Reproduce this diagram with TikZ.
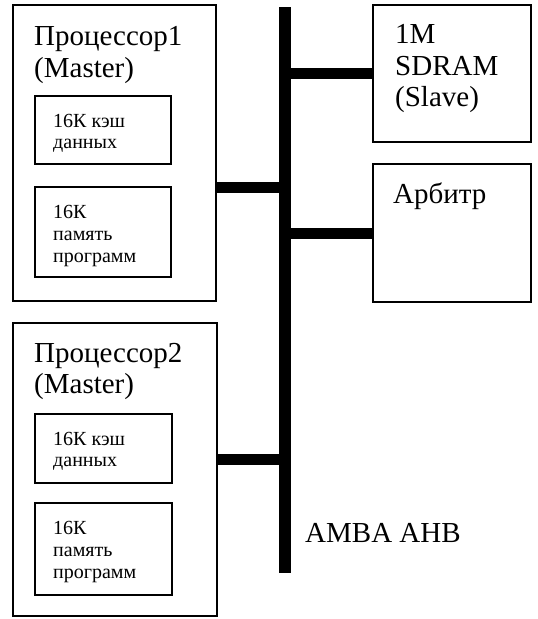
\documentclass[tikz,border=0pt]{standalone}
\usepackage{fontspec}
\setmainfont{Liberation Serif}
\begin{document}
\begin{tikzpicture}[x=1pt,y=-1pt,
  box/.style={draw=black,line width=1.6pt,inner sep=0pt,outer sep=0pt,anchor=north west},
  busbar/.style={fill=black,draw=none,inner sep=0pt,outer sep=0pt},
  branch/.style={line width=11pt,draw=black},
  big/.style={anchor=base west,inner sep=0pt,font=\fontsize{29}{31}\selectfont},
  small/.style={anchor=base west,inner sep=0pt,font=\fontsize{20}{22}\selectfont}]
\useasboundingbox (0,0) rectangle (538,619);
% processor 1
\node[box,minimum width=203pt,minimum height=296pt] (p1) at (13,5) {};
\node[box,minimum width=136pt,minimum height=68pt] (p1c) at (35,96) {};
\node[box,minimum width=136pt,minimum height=90pt] (p1m) at (35,187) {};
\node[big] (p1t1) at (34,45) {Процессор1};
\node[big] (p1t2) at (34,77) {(Master)};
\node[small] (p1c1) at (53,127) {16К кэш};
\node[small] (p1c2) at (53,148) {данных};
\node[small] (p1m1) at (53,218) {16К};
\node[small] (p1m2) at (53,240) {память};
\node[small] (p1m3) at (53,262) {программ};
% processor 2
\node[box,minimum width=204pt,minimum height=293pt] (p2) at (13,323) {};
\node[box,minimum width=137pt,minimum height=69pt] (p2c) at (35,414) {};
\node[box,minimum width=137pt,minimum height=92pt] (p2m) at (35,503) {};
\node[big] (p2t1) at (34,362) {Процессор2};
\node[big] (p2t2) at (34,393) {(Master)};
\node[small] (p2c1) at (53,445) {16К кэш};
\node[small] (p2c2) at (53,466) {данных};
\node[small] (p2m1) at (53,534) {16К};
\node[small] (p2m2) at (53,556) {память};
\node[small] (p2m3) at (53,578) {программ};
% slaves
\node[box,minimum width=158pt,minimum height=137pt] (sd) at (373,5) {};
\node[big] (sd1) at (395,43) {1M};
\node[big] (sd2) at (395,75) {SDRAM};
\node[big] (sd3) at (395,106) {(Slave)};
\node[box,minimum width=158pt,minimum height=138pt] (arb) at (373,164) {};
\node[big] (arbt) at (393,203) {Арбитр};
% bus
\node[busbar,minimum width=12pt,minimum height=566pt,anchor=north] (bus) at (284.5,7) {};
\node[big] (amba) at (305,542) {AMBA AHB};
% branches
\draw[branch] (p1.east |- 0,187.5) -- (bus.center |- 0,187.5);
\draw[branch] (p2.east |- 0,459) -- (bus.center |- 0,459);
\draw[branch] (bus.center |- 0,73.5) -- (sd.west |- 0,73.5);
\draw[branch] (bus.center |- 0,233) -- (arb.west |- 0,233);
\end{tikzpicture}
\end{document}
